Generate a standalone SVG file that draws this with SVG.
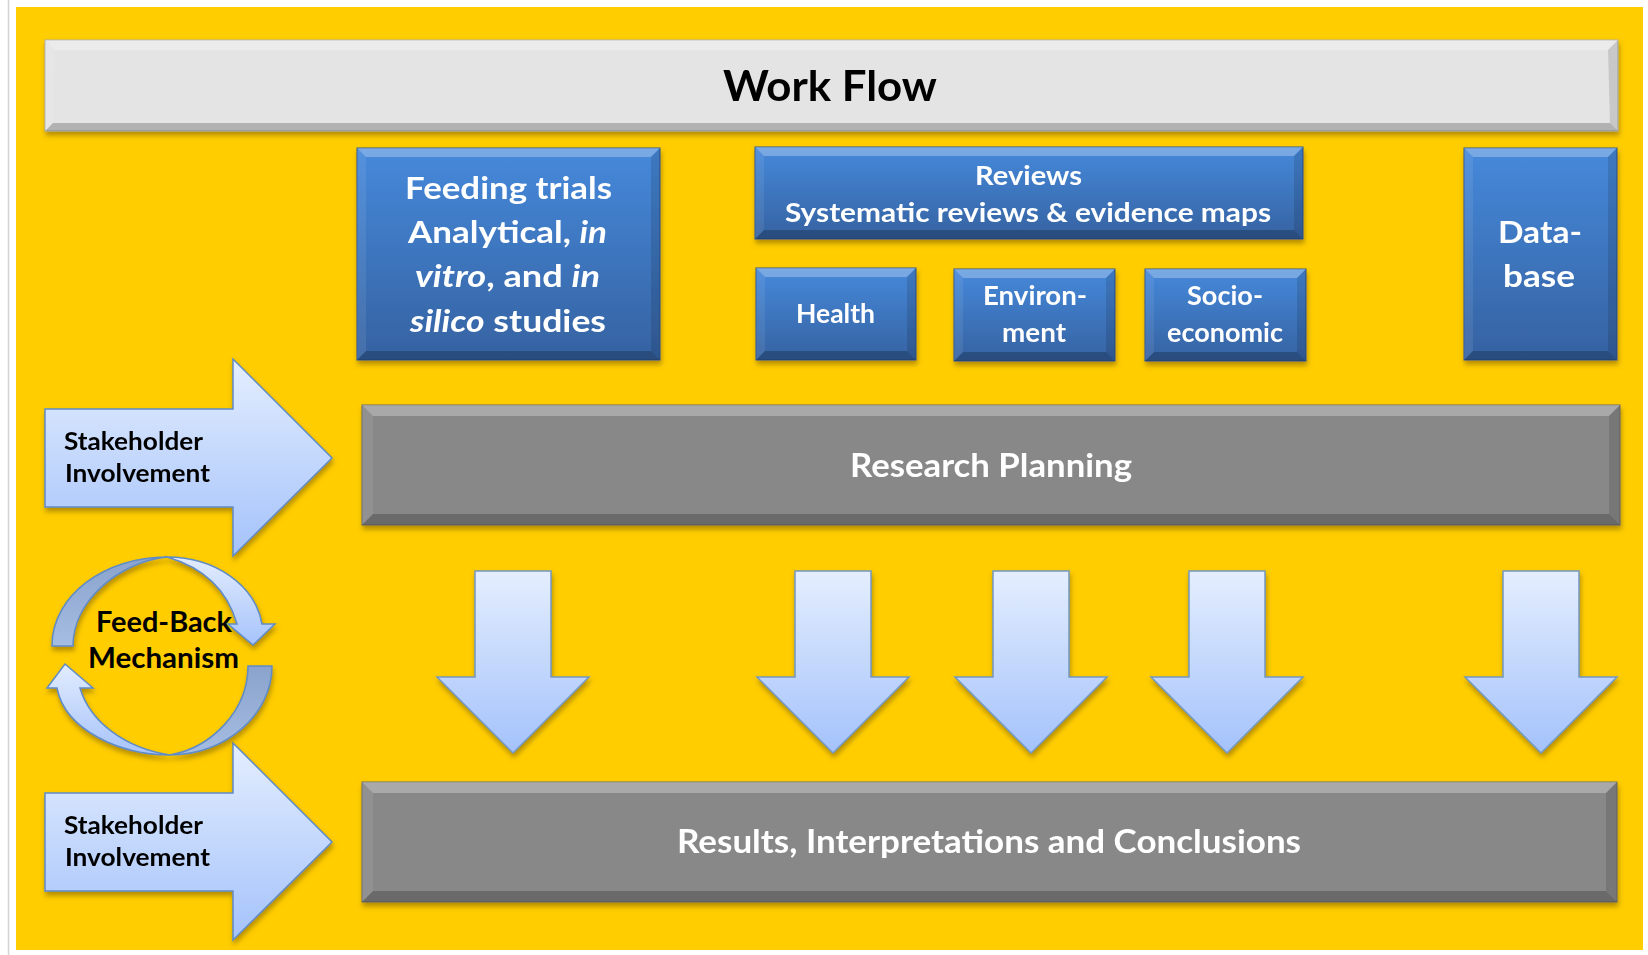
<svg xmlns="http://www.w3.org/2000/svg" width="1648" height="955" viewBox="0 0 1648 955">
<style>
.t{font-family:Lato,"Open Sans","Liberation Sans",sans-serif;font-weight:700}
.w{fill:#ffffff}
.k{fill:#000000}
.i{font-style:italic}
.bvT{fill:#ffffff;fill-opacity:.28}
.bvB{fill:#000000;fill-opacity:.22}
.bvL{fill:#ffffff;fill-opacity:.08}
.bvR{fill:#000000;fill-opacity:.12}
.blue{fill:url(#gBlue);stroke:#2b5791;stroke-width:1}
.grey{fill:#888888;stroke:#6a6a6a;stroke-width:1}
.ttl{fill:#e4e4e4;stroke:#b0b0b0;stroke-width:1}
.arr{fill:url(#gArr);stroke:#7398c0;stroke-width:1.5}
.side{fill:url(#gSide);stroke:#5f8cc6;stroke-width:1.5}
.cdark{fill:url(#gDark);stroke:#5f8cc6;stroke-width:1.5}
.clight{fill:url(#gLight);stroke:#5f8cc6;stroke-width:1.5}
</style>
<defs>
<linearGradient id="gBlue" x1="0" y1="0" x2="0" y2="1"><stop offset="0" stop-color="#4689db"/><stop offset="1" stop-color="#3562a1"/></linearGradient>
<linearGradient id="gArr" x1="0" y1="0" x2="0" y2="1"><stop offset="0" stop-color="#e4eefe"/><stop offset="1" stop-color="#a4c2fb"/></linearGradient>
<linearGradient id="gSide" x1="0" y1="0" x2="0" y2="1"><stop offset="0" stop-color="#e4eefe"/><stop offset="1" stop-color="#a4c2fb"/></linearGradient>
<linearGradient id="gDark" x1="0" y1="0" x2="0" y2="1"><stop offset="0" stop-color="#8aa3cc"/><stop offset="1" stop-color="#a6bde2"/></linearGradient>
<linearGradient id="gLight" x1="0" y1="0" x2="0" y2="1"><stop offset="0" stop-color="#e2ecfd"/><stop offset="1" stop-color="#a6c3fb"/></linearGradient>
<filter id="sh" x="-5%" y="-10%" width="110%" height="130%">
<feGaussianBlur in="SourceAlpha" stdDeviation="2.5"/>
<feOffset dx="1" dy="4" result="b"/>
<feFlood flood-color="#7a5c00" flood-opacity="0.55"/>
<feComposite in2="b" operator="in"/>
<feMerge><feMergeNode/><feMergeNode in="SourceGraphic"/></feMerge>
</filter>
</defs>

<g id="background">
<rect width="1648" height="955" fill="#ffffff"/>
<line x1="8.5" y1="0" x2="8.5" y2="955" stroke="#d4d4d4" stroke-width="1.5"/>
<rect x="16" y="7" width="1627" height="943" fill="#ffcd00"/>
</g>

<g id="title" filter="url(#sh)">
<rect class="ttl" x="45" y="40" width="1573" height="91"/>
<polygon class="bvT" points="45,40 1618,40 1608,50 55,50"/>
<polygon class="bvB" points="45,131 1618,131 1610,123 53,123"/>
<polygon class="bvL" points="45,40 55,50 53,123 45,131"/>
<polygon class="bvR" points="1618,40 1608,50 1610,123 1618,131"/>
<text class="t k" x="723" y="101" font-size="42" textLength="214" lengthAdjust="spacingAndGlyphs">Work Flow</text>
</g>

<g id="feeding" filter="url(#sh)">
<rect class="blue" x="357" y="148" width="303" height="212"/>
<polygon class="bvT" points="357,148 660,148 651,157 366,157"/>
<polygon class="bvB" points="357,360 660,360 651,351 366,351"/>
<polygon class="bvL" points="357,148 366,157 366,351 357,360"/>
<polygon class="bvR" points="660,148 651,157 651,351 660,360"/>
<text class="t w" x="405" y="199" font-size="31" textLength="207" lengthAdjust="spacingAndGlyphs">Feeding trials</text>
<text class="t w" x="408" y="243" font-size="31" textLength="199" lengthAdjust="spacingAndGlyphs">Analytical, <tspan class="i">in</tspan></text>
<text class="t w" x="415" y="287" font-size="31" textLength="185" lengthAdjust="spacingAndGlyphs"><tspan class="i">vitro</tspan>, and <tspan class="i">in</tspan></text>
<text class="t w" x="410" y="332" font-size="31" textLength="196" lengthAdjust="spacingAndGlyphs"><tspan class="i">silico</tspan> studies</text>
</g>

<g id="reviews" filter="url(#sh)">
<rect class="blue" x="755" y="147" width="548" height="92"/>
<polygon class="bvT" points="755,147 1303,147 1294,156 764,156"/>
<polygon class="bvB" points="755,239 1303,239 1294,230 764,230"/>
<polygon class="bvL" points="755,147 764,156 764,230 755,239"/>
<polygon class="bvR" points="1303,147 1294,156 1294,230 1303,239"/>
<text class="t w" x="975" y="185" font-size="26" textLength="107" lengthAdjust="spacingAndGlyphs">Reviews</text>
<text class="t w" x="785" y="222" font-size="26" textLength="486" lengthAdjust="spacingAndGlyphs">Systematic reviews &amp; evidence maps</text>
</g>

<g id="health" filter="url(#sh)">
<rect class="blue" x="756" y="268" width="160" height="92"/>
<polygon class="bvT" points="756,268 916,268 907,277 765,277"/>
<polygon class="bvB" points="756,360 916,360 907,351 765,351"/>
<polygon class="bvL" points="756,268 765,277 765,351 756,360"/>
<polygon class="bvR" points="916,268 907,277 907,351 916,360"/>
<text class="t w" x="796" y="323" font-size="26" textLength="79" lengthAdjust="spacingAndGlyphs">Health</text>
</g>

<g id="environment" filter="url(#sh)">
<rect class="blue" x="954" y="269" width="161" height="92"/>
<polygon class="bvT" points="954,269 1115,269 1106,278 963,278"/>
<polygon class="bvB" points="954,361 1115,361 1106,352 963,352"/>
<polygon class="bvL" points="954,269 963,278 963,352 954,361"/>
<polygon class="bvR" points="1115,269 1106,278 1106,352 1115,361"/>
<text class="t w" x="983" y="305" font-size="26" textLength="104" lengthAdjust="spacingAndGlyphs">Environ-</text>
<text class="t w" x="1002" y="342" font-size="26" textLength="64" lengthAdjust="spacingAndGlyphs">ment</text>
</g>

<g id="socio" filter="url(#sh)">
<rect class="blue" x="1145" y="269" width="161" height="92"/>
<polygon class="bvT" points="1145,269 1306,269 1297,278 1154,278"/>
<polygon class="bvB" points="1145,361 1306,361 1297,352 1154,352"/>
<polygon class="bvL" points="1145,269 1154,278 1154,352 1145,361"/>
<polygon class="bvR" points="1306,269 1297,278 1297,352 1306,361"/>
<text class="t w" x="1187" y="305" font-size="26" textLength="76" lengthAdjust="spacingAndGlyphs">Socio-</text>
<text class="t w" x="1167" y="342" font-size="26" textLength="116" lengthAdjust="spacingAndGlyphs">economic</text>
</g>

<g id="database" filter="url(#sh)">
<rect class="blue" x="1464" y="148" width="153" height="212"/>
<polygon class="bvT" points="1464,148 1617,148 1608,157 1473,157"/>
<polygon class="bvB" points="1464,360 1617,360 1608,351 1473,351"/>
<polygon class="bvL" points="1464,148 1473,157 1473,351 1464,360"/>
<polygon class="bvR" points="1617,148 1608,157 1608,351 1617,360"/>
<text class="t w" x="1498" y="243" font-size="30" textLength="84" lengthAdjust="spacingAndGlyphs">Data-</text>
<text class="t w" x="1503" y="287" font-size="30" textLength="72" lengthAdjust="spacingAndGlyphs">base</text>
</g>

<g id="research" filter="url(#sh)">
<rect class="grey" x="362" y="405" width="1258" height="120"/>
<polygon class="bvT" points="362,405 1620,405 1609,416 373,416"/>
<polygon class="bvB" points="362,525 1620,525 1609,514 373,514"/>
<polygon class="bvL" points="362,405 373,416 373,514 362,525"/>
<polygon class="bvR" points="1620,405 1609,416 1609,514 1620,525"/>
<text class="t w" x="850" y="477" font-size="33" textLength="282" lengthAdjust="spacingAndGlyphs">Research Planning</text>
</g>

<g id="results" filter="url(#sh)">
<rect class="grey" x="362" y="782" width="1255" height="120"/>
<polygon class="bvT" points="362,782 1617,782 1606,793 373,793"/>
<polygon class="bvB" points="362,902 1617,902 1606,891 373,891"/>
<polygon class="bvL" points="362,782 373,793 373,891 362,902"/>
<polygon class="bvR" points="1617,782 1606,793 1606,891 1617,902"/>
<text class="t w" x="677" y="853" font-size="32" textLength="624" lengthAdjust="spacingAndGlyphs">Results, Interpretations and Conclusions</text>
</g>

<g id="stakeholder1" filter="url(#sh)">
<polygon class="side" points="45,409 233,409 233,359 332,458 233,556 233,507 45,507"/>
<text class="t k" x="64" y="450" font-size="25" textLength="139" lengthAdjust="spacingAndGlyphs">Stakeholder</text>
<text class="t k" x="65" y="482" font-size="25" textLength="145" lengthAdjust="spacingAndGlyphs">Involvement</text>
</g>

<g id="stakeholder2" filter="url(#sh)">
<polygon class="side" points="45,793 233,793 233,743 332,842 233,940 233,891 45,891"/>
<text class="t k" x="64" y="834" font-size="25" textLength="139" lengthAdjust="spacingAndGlyphs">Stakeholder</text>
<text class="t k" x="65" y="866" font-size="25" textLength="145" lengthAdjust="spacingAndGlyphs">Involvement</text>
</g>

<g id="feedback">
<g filter="url(#sh)">
<path class="cdark" d="M52,646 C52,595 105,557 167,557 C120,562 73,600 73,646 Z"/>
<path class="clight" d="M167,557 C215,557 255,585 262,624 L275,624 L253,645 L228,624 L237,624 C228,592 205,568 167,557 Z"/>
<path class="cdark" d="M272,666 C272,715 225,755 170,755 C210,748 248,712 248,666 Z"/>
<path class="clight" d="M170,755 C120,755 65,730 57,688 L47,688 L65,664 L93,688 L80,688 C90,722 125,748 170,755 Z"/>
</g>
<text class="t k" x="96" y="632" font-size="29" textLength="136" lengthAdjust="spacingAndGlyphs">Feed-Back</text>
<text class="t k" x="88" y="668" font-size="29" textLength="151" lengthAdjust="spacingAndGlyphs">Mechanism</text>
</g>

<g id="connectors" filter="url(#sh)">
<polygon class="arr" stroke="#4a7fc1" points="475,571 551,571 551,677 589,677 513,753 437,677 475,677"/>
<polygon class="arr" points="795,571 871,571 871,677 909,677 833,753 757,677 795,677"/>
<polygon class="arr" points="993,571 1069,571 1069,677 1107,677 1031,753 955,677 993,677"/>
<polygon class="arr" points="1189,571 1265,571 1265,677 1303,677 1227,753 1151,677 1189,677"/>
<polygon class="arr" points="1503,571 1579,571 1579,677 1617,677 1541,753 1465,677 1503,677"/>
</g>
</svg>
